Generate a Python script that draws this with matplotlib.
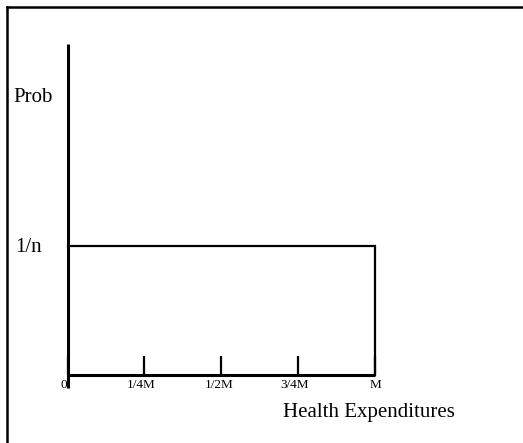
import matplotlib
matplotlib.use("Agg")
import matplotlib.pyplot as plt
from matplotlib.lines import Line2D
from matplotlib.transforms import ScaledTranslation

# Data: uniform distribution of health expenditures on [0, M]
tick_positions = [0, 0.25, 0.5, 0.75, 1.0]
tick_labels = ["0", "1/4M", "1/2M", "3/4M", "M"]
dist_x = [0, 1.0, 1.0]
dist_y = [1.0, 1.0, 0]
prob_level = 1.0
prob_label = "1/n"

W, H = 523, 443
fig = plt.figure(figsize=(W / 100, H / 100), dpi=100)
plt.rcParams['font.family'] = ['Liberation Serif', 'DejaVu Serif']

ax_l, ax_r = 67.5, 375.0
ax_t, ax_b = 44.0, 388.0
x_axis_px = 375.0
unit_px = 129.5  # pixels per probability unit (1/n)
ax = fig.add_axes([ax_l / W, (H - ax_b) / H, (ax_r - ax_l) / W, (ax_b - ax_t) / H])
ax.set_xlim(0, 1.0)
ax.set_ylim(-(ax_b - x_axis_px) / unit_px, (x_axis_px - ax_t) / unit_px)
ax.patch.set_alpha(0)

for s in ["top", "right"]:
    ax.spines[s].set_visible(False)
for s in ["left", "bottom"]:
    ax.spines[s].set_linewidth(2.2)
    ax.spines[s].set_capstyle("butt")
ax.spines["bottom"].set_position(("data", 0))

ax.plot(dist_x, dist_y, color="black", lw=1.6, clip_on=False, solid_joinstyle="miter")

ax.set_xticks(tick_positions)
ax.set_xticklabels(tick_labels, fontsize=9.5)
ax.tick_params(axis="x", direction="in", length=13.7, width=1.6, pad=3)
offsets = [-3.5, -3, -2, -3.5, 0]
for lab, off in zip(ax.get_xticklabels(), offsets):
    lab.set_transform(lab.get_transform() + ScaledTranslation(off / 100, 0, fig.dpi_scale_trans))

ax.set_yticks([prob_level])
ax.set_yticklabels([prob_label], fontsize=15)
ax.tick_params(axis="y", length=0, pad=18.4)

ax.set_ylabel("Prob", fontsize=15, rotation=0, ha="center", va="center")
ax.yaxis.set_label_coords((33.5 - ax_l) / (ax_r - ax_l), (ax_b - 97) / (ax_b - ax_t))
ax.set_xlabel("Health Expenditures", fontsize=15, ha="center", va="center")
ax.xaxis.set_label_coords((368.5 - ax_l) / (ax_r - ax_l), (ax_b - 413) / (ax_b - ax_t))

# outer frame (cut off at right and bottom)
fx, fy = 7 / W, 1 - 7 / H
fig.add_artist(Line2D([fx, 1.05], [fy, fy], transform=fig.transFigure, color="black", lw=1.8))
fig.add_artist(Line2D([fx, fx], [-0.05, fy], transform=fig.transFigure, color="black", lw=1.8))

fig.savefig("out.png", dpi=100)
